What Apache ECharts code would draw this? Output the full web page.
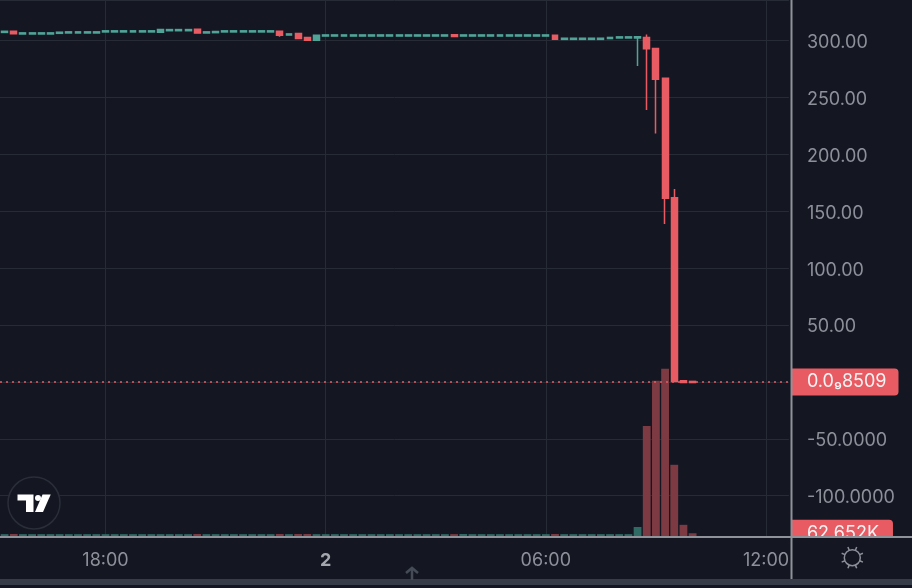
<!DOCTYPE html>
<html>
<head>
<meta charset="utf-8">
<style>
  html, body { margin: 0; padding: 0; background: #141722; }
  #chart { width: 912px; height: 588px; }
</style>
<script src="https://cdn.jsdelivr.net/npm/echarts@6/dist/echarts.min.js"></script>
</head>
<body>
<div id="chart"></div>
<script>
// 15 minute candles, first one is 15:15, last ones on the axis are empty
var opens = [
  307.3, 308.4, 305.9, 305.9, 305.9, 305.9, 306.5, 306.8, 306.8, 306.8,
  306.8, 307.7, 307.7, 307.7, 307.7, 307.7, 307.7, 307.5, 308.8, 308.8,
  308.8, 310.0, 306.8, 307.1, 307.7, 307.7, 307.7, 307.7, 307.7, 307.7,
  308.4, 305.0, 306.4, 302.9, 300.5, 304.1, 304.1, 304.1, 304.1, 304.1,
  304.1, 304.1, 304.1, 304.1, 304.1, 304.1, 304.1, 304.1, 304.1, 305.2,
  304.1, 304.1, 304.1, 304.1, 304.1, 304.1, 304.1, 304.1, 304.1, 304.1,
  304.9, 301.2, 301.2, 301.2, 301.2, 301.2, 301.9, 302.4, 302.4, 302.4,
  302.9, 293.2, 266.9, 161.9, 1.0, 0.5
];
var closes = [
  308.3, 306.1, 306.9, 306.9, 306.9, 306.9, 307.5, 307.8, 307.8, 307.8,
  307.8, 308.7, 308.7, 308.7, 308.7, 308.7, 308.7, 309.9, 309.8, 309.8,
  309.8, 306.7, 307.8, 308.1, 308.7, 308.7, 308.7, 308.7, 308.7, 308.7,
  304.9, 306.0, 302.0, 300.5, 304.9, 305.1, 305.1, 305.1, 305.1, 305.1,
  305.1, 305.1, 305.1, 305.1, 305.1, 305.1, 305.1, 305.1, 305.1, 303.8,
  305.1, 305.1, 305.1, 305.1, 305.1, 305.1, 305.1, 305.1, 305.1, 305.1,
  301.4, 302.2, 302.2, 302.2, 302.2, 302.2, 302.9, 303.4, 303.4, 303.4,
  292.9, 266.2, 161.4, 0.5, -0.5, -0.5
];
var lows = [
  307.3, 306.1, 305.9, 305.9, 305.9, 305.9, 306.5, 306.8, 306.8, 306.8,
  306.8, 307.7, 307.7, 307.7, 307.7, 307.7, 307.7, 307.5, 308.8, 308.8,
  308.8, 306.7, 306.8, 307.1, 307.7, 307.7, 307.7, 307.7, 307.7, 307.7,
  303.4, 305.0, 302.0, 300.5, 300.5, 304.1, 304.1, 304.1, 304.1, 304.1,
  304.1, 304.1, 304.1, 304.1, 304.1, 304.1, 304.1, 304.1, 304.1, 303.3,
  304.1, 304.1, 304.1, 304.1, 304.1, 304.1, 304.1, 304.1, 304.1, 304.1,
  301.4, 301.2, 301.2, 301.2, 301.2, 301.2, 301.9, 302.4, 302.4, 277.7,
  239.0, 218.5, 138.8, 0.5, -0.5, -0.5
];
var highs = [
  308.3, 308.4, 306.9, 306.9, 306.9, 306.9, 307.5, 307.8, 307.8, 307.8,
  307.8, 308.7, 308.7, 308.7, 308.7, 308.7, 308.7, 309.9, 309.8, 309.8,
  309.8, 310.0, 307.8, 308.1, 308.7, 308.7, 308.7, 308.7, 308.7, 308.7,
  308.4, 306.0, 306.4, 302.9, 304.9, 305.1, 305.1, 305.1, 305.1, 305.1,
  305.1, 305.1, 305.1, 305.1, 305.1, 305.1, 305.1, 305.1, 305.1, 305.2,
  305.1, 305.1, 305.1, 305.1, 305.1, 305.1, 305.1, 305.1, 305.1, 305.1,
  304.9, 302.2, 302.2, 302.2, 302.2, 302.2, 302.9, 303.4, 303.4, 303.4,
  305.5, 293.2, 266.9, 169.6, 1.0, 0.5
];
var volumes = [
  48000, 50000, 48000, 48000, 48000, 48000, 48000, 48000, 48000, 48000,
  48000, 48000, 48000, 48000, 48000, 48000, 48000, 48000, 48000, 48000,
  48000, 50000, 48000, 48000, 48000, 48000, 48000, 48000, 48000, 48000,
  50000, 48000, 50000, 50000, 48000, 48000, 48000, 48000, 48000, 48000,
  48000, 48000, 48000, 48000, 48000, 48000, 48000, 48000, 48000, 48000,
  50000, 48000, 48000, 48000, 48000, 48000, 48000, 48000, 48000, 48000,
  50000, 48000, 48000, 48000, 48000, 48000, 48000, 48000, 48000, 168000,
  1860000, 2620000, 2820000, 1210000, 204000, 62652
];
var lastPrice = 0.00000000085;
var lastPriceLabel = '0.0₉8509';
var lastVolume = 62652;
var lastVolumeLabel = '62.652K';

var yTickValues = [300, 250, 200, 150, 100, 50, -50, -100];
var yTickLabels = ['300.00', '250.00', '200.00', '150.00', '100.00', '50.00', '-50.0000', '-100.0000'];
var xTickLabels = { 11: '18:00', 35: '2', 59: '06:00', 83: '12:00' };

var bg = '#141722';
var red = '#e95b63';
var green = '#4fa397';
var volRed = '#7d3a42';
var volGreen = '#2f6a64';
var gridColor = '#272b36';
var textColor = '#8d9099';
var frameColor = '#8f9298';
var fontName = 'Inter';

var categories = [];
for (var i = 0; i < 86; i++) {
  var mins = (15 * 60 + 15 + i * 15) % 1440;
  categories.push(('0' + Math.floor(mins / 60)).slice(-2) + ':' + ('0' + mins % 60).slice(-2));
}

var candles = [];
var volumeBars = [];
for (var k = 0; k < opens.length; k++) {
  candles.push([opens[k], closes[k], lows[k], highs[k]]);
  volumeBars.push({
    value: volumes[k],
    itemStyle: { color: closes[k] >= opens[k] ? volGreen : volRed }
  });
}

function hasXTick(index) {
  return xTickLabels[index] !== undefined;
}

// little sun button in the corner
function sunIcon(cx, cy) {
  var parts = [{
    type: 'circle', z: 60,
    shape: { cx: cx, cy: cy, r: 8 },
    style: { fill: 'none', stroke: textColor, lineWidth: 1.5 }
  }];
  for (var a = 0; a < 8; a++) {
    var ang = a * Math.PI / 4 + Math.PI / 8;
    parts.push({
      type: 'line', z: 60,
      shape: {
        x1: cx + Math.cos(ang) * 8, y1: cy + Math.sin(ang) * 8,
        x2: cx + Math.cos(ang) * 11.5, y2: cy + Math.sin(ang) * 11.5
      },
      style: { stroke: textColor, lineWidth: 1.5 }
    });
  }
  return parts;
}

var chart = echarts.init(document.getElementById('chart'), null, { renderer: 'canvas' });
chart.setOption({
  animation: false,
  backgroundColor: bg,
  textStyle: { fontFamily: fontName },
  grid: { left: -0.57, top: 0, width: 789.5, height: 537, containLabel: false },
  xAxis: {
    type: 'category',
    data: categories,
    boundaryGap: true,
    axisLine: { show: false },
    axisTick: { show: false, alignWithLabel: true, interval: function (i) { return hasXTick(i); } },
    splitLine: {
      show: true,
      alignWithLabel: true,
      interval: function (i) { return hasXTick(i); },
      lineStyle: { color: gridColor, width: 1 }
    },
    axisLabel: {
      interval: function (i) { return hasXTick(i); },
      margin: 15,
      fontSize: 18,
      fontFamily: fontName,
      color: textColor,
      hideOverlap: false,
      formatter: function (v, i) {
        var t = xTickLabels[i];
        return t === '2' ? '{b|2}' : t;
      },
      rich: { b: { fontSize: 18, fontWeight: 'bold', color: '#a4a7ae', fontFamily: fontName } }
    }
  },
  yAxis: [{
    type: 'value',
    position: 'right',
    offset: 2,
    min: -136.3,
    max: 335.8,
    minInterval: 50,
    maxInterval: 50,
    axisLine: { show: false },
    axisTick: { show: false },
    splitLine: { show: true, lineStyle: { color: gridColor, width: 1 } },
    axisLabel: {
      margin: 16,
      showMinLabel: false,
      showMaxLabel: false,
      formatter: function (v) {
        var idx = yTickValues.indexOf(v);
        return idx >= 0 ? '{t|' + yTickLabels[idx] + '}' : '';
      },
      rich: { t: { fontSize: 18, fontFamily: fontName, color: textColor, padding: [4, 0, 0, 0] } }
    }
  }, {
    type: 'value',
    show: false,
    min: 0,
    max: 9000000,
    splitLine: { show: false }
  }],
  series: [{
    name: 'volume',
    type: 'bar',
    yAxisIndex: 1,
    barWidth: 7.8,
    data: volumeBars,
    z: 2,
    markLine: {
      silent: true,
      symbol: 'none',
      lineStyle: { color: 'transparent', width: 0 },
      label: {
        position: 'end',
        distance: 3,
        formatter: lastVolumeLabel,
        color: '#f3f3f4',
        fontSize: 18,
        fontFamily: fontName,
        backgroundColor: red,
        borderRadius: [0, 4, 4, 0],
        padding: [5, 14, 4, 15]
      },
      data: [{ yAxis: lastVolume }]
    }
  }, {
    name: 'price',
    type: 'candlestick',
    barWidth: 6.4,
    data: candles,
    z: 3,
    itemStyle: {
      color: green,
      color0: red,
      borderColor: green,
      borderColor0: red,
      borderWidth: 1.5
    },
    markLine: {
      silent: true,
      symbol: 'none',
      lineStyle: { color: red, type: [2, 4], width: 1.5 },
      label: {
        position: 'end',
        distance: 3,
        formatter: lastPriceLabel,
        color: '#f3f3f4',
        fontSize: 18,
        fontFamily: fontName,
        backgroundColor: red,
        borderRadius: [0, 4, 4, 0],
        padding: [5, 12, 4, 15]
      },
      data: [{ yAxis: lastPrice }]
    }
  }],
  graphic: [
    // cuts the volume badge off at the time scale
    { type: 'rect', z: 50, shape: { x: 792, y: 537, width: 120, height: 42 }, style: { fill: bg } },
    { type: 'rect', z: 51, shape: { x: 0, y: 536, width: 912, height: 2 }, style: { fill: frameColor } },
    { type: 'rect', z: 51, shape: { x: 790.5, y: 0, width: 2, height: 579 }, style: { fill: frameColor } },
    { type: 'rect', z: 51, shape: { x: 0, y: 579, width: 912, height: 6 }, style: { fill: '#363d48' } },
    // arrow on the pane separator
    {
      type: 'polyline', z: 52,
      shape: { points: [[406, 573], [412, 568], [418, 573]] },
      style: { fill: 'none', stroke: '#454c57', lineWidth: 2.5 }
    },
    { type: 'line', z: 52, shape: { x1: 412, y1: 568, x2: 412, y2: 580 }, style: { stroke: '#454c57', lineWidth: 2.5 } },
    // logo
    {
      type: 'circle', z: 20,
      shape: { cx: 34, cy: 503, r: 26 },
      style: { fill: bg, stroke: '#2a2e39', lineWidth: 1.5 }
    },
    {
      type: 'polygon', z: 21,
      shape: { points: [[17.5, 494.5], [33.5, 494.5], [33.5, 512], [26, 512], [26, 500.5], [17.5, 500.5]] },
      style: { fill: '#ffffff' }
    },
    { type: 'circle', z: 21, shape: { cx: 38, cy: 498, r: 3 }, style: { fill: '#ffffff' } },
    {
      type: 'polygon', z: 21,
      shape: { points: [[42.5, 494.5], [50.7, 494.5], [43, 512], [35, 512]] },
      style: { fill: '#ffffff' }
    }
  ].concat(sunIcon(852.3, 557.7))
});
</script>
</body>
</html>
